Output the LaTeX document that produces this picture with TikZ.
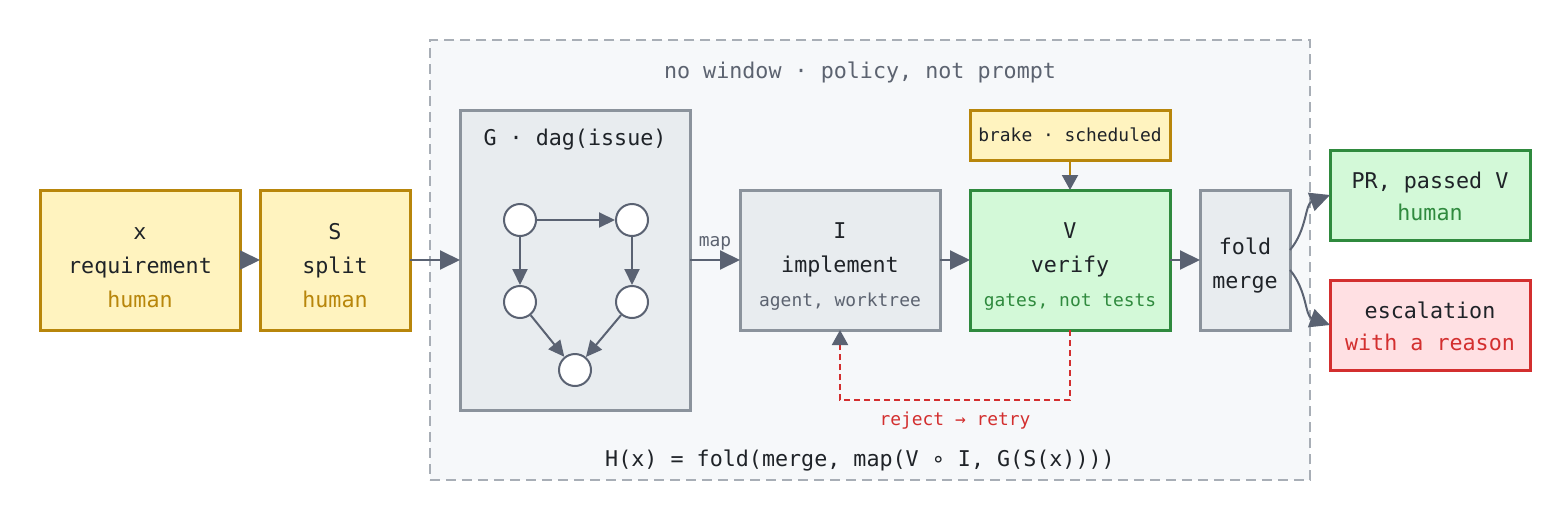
\documentclass[tikz,border=0pt]{standalone}
\usepackage{fontspec}
\setmainfont{DejaVu Sans Mono}
\usetikzlibrary{arrows.meta, positioning, fit, backgrounds}
\usepackage{xcolor}
\definecolor{inkgray}{HTML}{5A6272}
\definecolor{textdark}{HTML}{1F2328}
\definecolor{mutedgray}{HTML}{5C6370}
\definecolor{humanfill}{HTML}{FFF3BF}
\definecolor{humangold}{HTML}{B8860B}
\definecolor{stepfill}{HTML}{E8ECEF}
\definecolor{stepline}{HTML}{8B939C}
\definecolor{passfill}{HTML}{D3F9D8}
\definecolor{passgreen}{HTML}{2F8A3E}
\definecolor{failfill}{HTML}{FFE0E3}
\definecolor{failred}{HTML}{D32F2F}
\definecolor{windowfill}{HTML}{F6F8FA}
\definecolor{windowline}{HTML}{A8AEB6}
\newcommand{\bodysize}{\fontsize{10.85}{17}\selectfont}
\newcommand{\notesize}{\fontsize{8.95}{11}\selectfont}
\newcommand{\lift}[1]{\rule{0pt}{#1}}

\begin{document}
\begin{tikzpicture}[
  box/.style={draw, line width=1.5pt, text=textdark, font=\bodysize, align=center, minimum height=70pt, inner sep=0pt, outer sep=0pt},
  humanbox/.style={box, fill=humanfill, draw=humangold},
  stepbox/.style={box, fill=stepfill, draw=stepline},
  passbox/.style={box, fill=passfill, draw=passgreen},
  failbox/.style={box, fill=failfill, draw=failred},
  dagnode/.style={circle, draw=inkgray, fill=white, line width=1pt, minimum size=16pt, inner sep=0pt},
  flow/.style={draw=inkgray, line width=1pt, -{Triangle[length=10pt, width=9.5pt]}},
  dagedge/.style={draw=inkgray, line width=1pt, -{Triangle[length=8pt, width=7.5pt]}},
  note/.style={font=\notesize, text=mutedgray},
  window/.style={draw=windowline, fill=windowfill, line width=0.75pt, dash pattern=on 5pt off 3pt},
]
\useasboundingbox (0,0) rectangle (784pt,-260pt);

% Human side
\node[humanbox, minimum width=100pt] (xreq) at (70pt,-130pt) {\lift{14pt}x\\requirement\\\textcolor{humangold}{human}};
\node[humanbox, minimum width=75pt, right=10pt of xreq] (split) {\lift{14pt}S\\split\\\textcolor{humangold}{human}};

% Graph of issues
\node[stepbox, minimum width=115pt, minimum height=150pt, right=25pt of split] (G) {};
\node[font=\bodysize, text=textdark] (Gtitle) at ([yshift=-15pt]G.north) {G · dag(issue)};
\node[dagnode] (d1) at ([shift={(-27.5pt,20pt)}]G.center) {};
\node[dagnode, right=39pt of d1] (d2) {};
\node[dagnode, below=24pt of d1] (d3) {};
\node[dagnode, below=24pt of d2] (d4) {};
\node[dagnode] (d5) at ([yshift=-55pt]G.center) {};

% Implement / verify / fold
\node[stepbox, minimum width=100pt, right=25pt of G] (impl) {\lift{14pt}I\\implement\\{\notesize\color{mutedgray}agent, worktree}};
\node[passbox, minimum width=100pt, right=15pt of impl] (verify) {\lift{14pt}V\\verify\\{\notesize\color{passgreen}gates, not tests}};
\node[stepbox, minimum width=45pt, right=15pt of verify] (fold) {\lift{14pt}fold\\merge};
\node[humanbox, minimum width=100pt, minimum height=25pt, font=\notesize, above=15pt of verify] (brake) {brake · scheduled};

% Outcomes
\node[passbox, minimum width=100pt, minimum height=45pt, right=20pt of fold, yshift=32.5pt] (pr) {\lift{10pt}PR, passed V\\[-1pt]\textcolor{passgreen}{human}};
\node[failbox, minimum width=100pt, minimum height=45pt, right=20pt of fold, yshift=-32.5pt] (esc) {\lift{10pt}escalation\\[-1pt]\textcolor{failred}{with a reason}};

% Window
\begin{scope}[on background layer]
\node[window, fit=(G)(brake)(fold), inner ysep=35pt, inner xsep=12.5pt, xshift=-2.5pt] (win) {};
\end{scope}
\node[note, font=\bodysize] (wintitle) at ([shift={(-5pt,-16.5pt)}]win.north) {no window · policy, not prompt};
\node[font=\bodysize, text=textdark] (formula) at ([shift={(-5pt,10pt)}]win.south) {H(x) = fold(merge, map(V ∘ I, G(S(x))))};

% DAG edges
\draw[dagedge] (d1) -- (d2);
\draw[dagedge] (d1) -- (d3);
\draw[dagedge] (d2) -- (d4);
\draw[dagedge] (d3) -- (d5);
\draw[dagedge] (d4) -- (d5);

% Flow edges
\draw[flow] (xreq) -- (split);
\draw[flow] (split) -- (G);
\draw[flow] (G) -- node[note, above=1pt] (maplabel) {map} (impl);
\draw[flow] (impl) -- (verify);
\draw[flow] (verify) -- (fold);
\draw[flow, draw=humangold, -{Triangle[length=7.5pt, width=8pt, color=inkgray]}] (brake) -- (verify);
\draw[flow] ([yshift=5pt]fold.east) to[out=50, in=200] (pr.west);
\draw[flow] ([yshift=-5pt]fold.east) to[out=-50, in=160] (esc.west);
\draw[flow, draw=failred, dash pattern=on 3pt off 2pt, -{Triangle[length=7.5pt, width=8pt, color=inkgray]}]
  (verify.south) -- ++(0,-35pt) -| node[note, pos=0.25, below=2pt, text=failred] (rejectlabel) {reject → retry} (impl.south);
\end{tikzpicture}
\end{document}
